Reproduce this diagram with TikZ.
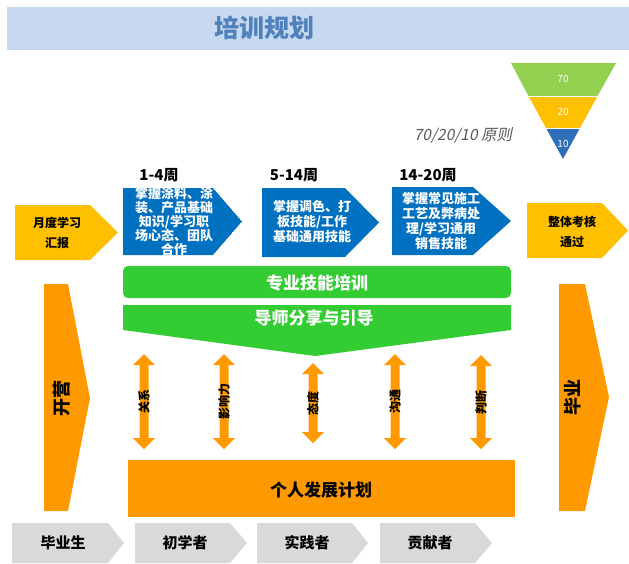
\documentclass[tikz,border=0pt]{standalone}
\usepackage{fontspec}
\setmainfont{Noto Sans CJK SC}
\newfontfamily\slantfont[FakeSlant=0.2]{Noto Sans CJK SC}
\definecolor{titlebg}{HTML}{C6D9F0}
\definecolor{titlefg}{HTML}{4F81BD}
\definecolor{bluebox}{HTML}{0070C0}
\definecolor{yel}{HTML}{FFC000}
\definecolor{ora}{HTML}{FF9900}
\definecolor{grn}{HTML}{33CC33}
\definecolor{gry}{HTML}{D9D9D9}
\definecolor{fgreen}{HTML}{92D050}
\definecolor{fblue}{HTML}{2F6EBA}
\definecolor{slanttxt}{HTML}{595959}
\tikzset{
  bluetxt/.style={text=white, font=\bfseries\fontsize{13}{15}\selectfont, align=center, inner sep=0pt},
  yeltxt/.style={text=black, font=\bfseries\fontsize{12}{20}\selectfont, align=center, inner sep=0pt},
  weektxt/.style={text=black, font=\bfseries\fontsize{15}{17}\selectfont, inner sep=0pt},
  greentxt/.style={text=white, font=\bfseries\fontsize{17}{19}\selectfont, inner sep=0pt},
  graytxt/.style={text=black, font=\bfseries\fontsize{15}{17}\selectfont, inner sep=0pt},
  arrtxt/.style={text=black, font=\bfseries\fontsize{12}{14}\selectfont, inner sep=0pt, rotate=90},
  sidetxt/.style={text=black, font=\bfseries\fontsize{18}{20}\selectfont, inner sep=0pt, rotate=90},
  funtxt/.style={text=white, font=\fontsize{10}{12}\selectfont, inner sep=0pt},
}
\begin{document}
\begin{tikzpicture}[x=1pt,y=-1pt]
\useasboundingbox (0,0) rectangle (629,563);
\fill[white] (0,0) rectangle (629,563);

% title
\fill[titlebg] (7,7) rectangle (629,50);
\node[text=titlefg, font=\bfseries\fontsize{25}{27}\selectfont, inner sep=0pt] (title) at (264,28) {培训规划};

% funnel
\fill[fgreen] (511,63) -- (616,63) -- (597.5,96) -- (528.5,96) -- cycle;
\fill[yel] (528.5,96) -- (597.5,96) -- (580,128) -- (546,128) -- cycle;
\fill[fblue] (546,128) -- (580,128) -- (563,159) -- cycle;
\draw[white, line width=1pt] (528.5,96) -- (597.5,96) (546,128) -- (580,128);
\node[funtxt] (f70) at (563,79) {70};
\node[funtxt] (f20) at (563,112) {20};
\node[funtxt] (f10) at (563,144) {10};
\node[text=slanttxt, font=\slantfont\fontsize{15.5}{17}\selectfont, inner sep=0pt] (rule) at (463,135) {70/20/10 原则};

% week labels
\node[weektxt] (wk1) at (159,175) {1-4周};
\node[weektxt] (wk2) at (294,175) {5-14周};
\node[weektxt] (wk3) at (428,175) {14-20周};

% blue pentagons
\begin{scope}
\clip (123,188) -- (213,188) -- (242,221.5) -- (213,255) -- (123,255) -- cycle;
\fill[bluebox] (123,188) -- (213,188) -- (242,221.5) -- (213,255) -- (123,255) -- cycle;
\node[bluetxt, font=\bfseries\fontsize{13}{14}\selectfont] (b1) at (174,221) {掌握涂料、涂\\装、产品基础\\知识/学习职\\场心态、团队\\合作};
\end{scope}
\fill[bluebox] (262,188) -- (345,188) -- (379,222.5) -- (345,257) -- (262,257) -- cycle;
\node[bluetxt] (b2) at (312,222) {掌握调色、打\\板技能/工作\\基础通用技能};
\fill[bluebox] (392,187) -- (473,187) -- (511,221) -- (473,255) -- (392,255) -- cycle;
\node[bluetxt] (b3) at (441,221) {掌握常见施工\\工艺及弊病处\\理/学习通用\\销售技能};

% yellow pentagons
\fill[yel] (15,205) -- (90,205) -- (118,232.5) -- (90,260) -- (15,260) -- cycle;
\node[yeltxt] (y1) at (57,233) {月度学习\\汇报};
\fill[yel] (527,203) -- (602,203) -- (628,230.5) -- (602,258) -- (527,258) -- cycle;
\node[yeltxt] (y2) at (572,232) {整体考核\\通过};

% green bars
\fill[grn, rounded corners=5pt] (123,266) rectangle (511,298);
\node[greentxt] (g1) at (317,283) {专业技能培训};
\fill[grn] (123,305) -- (511,305) -- (511,330) -- (315,356) -- (123,330) -- cycle;
\node[greentxt] (g2) at (314,318) {导师分享与引导};

% double arrows
\foreach \cx/\ty/\by/\lab/\nm in {144/354/449/关系/a1, 224/354/449/影响力/a2, 313/363/443/态度/a3, 395/354/449/沟通/a4, 481/355/449/判断/a5}{
  \fill[ora] (\cx,\ty) -- ({\cx+11},{\ty+11}) -- ({\cx+4.5},{\ty+11}) -- ({\cx+4.5},{\by-11})
    -- ({\cx+11},{\by-11}) -- (\cx,\by) -- ({\cx-11},{\by-11}) -- ({\cx-4.5},{\by-11})
    -- ({\cx-4.5},{\ty+11}) -- ({\cx-11},{\ty+11}) -- cycle;
  \node[arrtxt] (\nm) at (\cx,{(\ty+\by)/2}) {\lab};
}

% personal development plan
\fill[ora] (128,460) rectangle (515,517);
\node[text=black, font=\bfseries\fontsize{17}{19}\selectfont, inner sep=0pt] (pdp) at (321,490) {个人发展计划};

% side arrows
\fill[ora] (44,284) -- (68,284) -- (90,398) -- (68,511) -- (44,511) -- cycle;
\node[sidetxt] (open) at (62,398) {开营};
\fill[ora] (559,284) -- (585,284) -- (609,397) -- (585,511) -- (559,511) -- cycle;
\node[sidetxt] (grad) at (573,397) {毕业};

% gray chevrons
\foreach \xl/\xs/\xt/\tx/\lab/\nm in {12/108/124/63/毕业生/c1, 135/230/247/185/初学者/c2, 257/352/368/307/实践者/c3, 380/475/492/430/贡献者/c4}{
  \fill[gry] (\xl,523) -- (\xs,523) -- (\xt,543) -- (\xs,563) -- (\xl,563) -- cycle;
  \node[graytxt] (\nm) at (\tx,543) {\lab};
}
\end{tikzpicture}
\end{document}
